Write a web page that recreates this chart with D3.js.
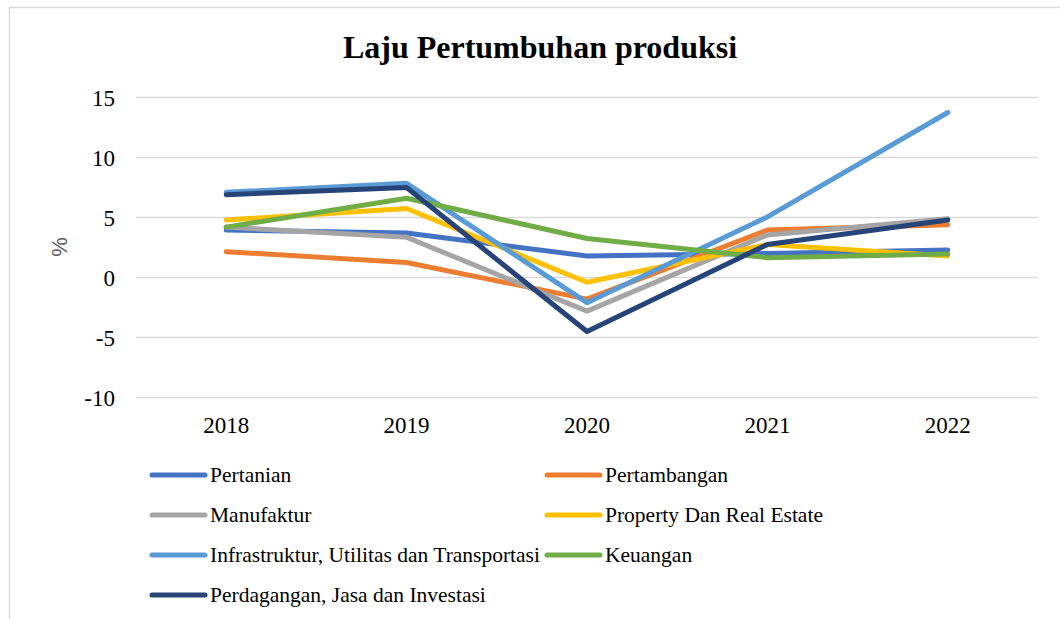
<!DOCTYPE html>
<html lang="en">
  <head>
    <meta charset="UTF-8" />
    <title>Laju Pertumbuhan produksi</title>
    <script src="https://d3js.org/d3.v7.min.js"></script>
    <style>
      body {
        margin: 0;
        background: #fff;
      }
      .title {
        font-family: "Liberation Serif", "Times New Roman", serif;
        font-weight: bold;
        font-size: 32px;
      }
      .tick-label {
        font-family: "Liberation Serif", "Times New Roman", serif;
        font-size: 23px;
        fill: #000;
      }
      .legend-label {
        font-family: "Liberation Serif", "Times New Roman", serif;
        font-size: 21.5px;
      }
    </style>
  </head>
  <body>
    <svg width="1060" height="619"></svg>
    <script>
      const years = ["2018", "2019", "2020", "2021", "2022"];
      const yTicks = [-10, -5, 0, 5, 10, 15];

      const pertanian = [3.95, 3.7, 1.8, 2.0, 2.3];
      const pertambangan = [2.15, 1.25, -1.8, 3.95, 4.4];
      const manufaktur = [4.2, 3.35, -2.8, 3.55, 4.9];
      const property = [4.8, 5.75, -0.4, 2.75, 1.8];
      const infrastruktur = [7.1, 7.85, -2.1, 5.05, 13.75];
      const keuangan = [4.2, 6.6, 3.25, 1.65, 1.95];
      const perdagangan = [6.9, 7.5, -4.5, 2.75, 4.8];

      const series = [
        { name: "Pertanian", values: pertanian, color: "#4472C4" },
        { name: "Pertambangan", values: pertambangan, color: "#ED7D31" },
        { name: "Manufaktur", values: manufaktur, color: "#A5A5A5" },
        { name: "Property Dan Real Estate", values: property, color: "#FFC000" },
        { name: "Infrastruktur, Utilitas dan Transportasi", values: infrastruktur, color: "#5B9BD5" },
        { name: "Keuangan", values: keuangan, color: "#70AD47" },
        { name: "Perdagangan, Jasa dan Investasi", values: perdagangan, color: "#264478" },
      ];

      const svg = d3.select("svg");

      // chart border
      svg
        .append("rect")
        .attr("x", 9.5)
        .attr("y", 7.5)
        .attr("width", 1060)
        .attr("height", 630)
        .attr("fill", "none")
        .attr("stroke", "#d9d9d9")
        .attr("stroke-width", 1.5);

      svg
        .append("text")
        .attr("class", "title")
        .attr("x", 540)
        .attr("y", 58)
        .attr("text-anchor", "middle")
        .text("Laju Pertumbuhan produksi");

      const x = d3.scaleBand().domain(years).range([136, 1038]);
      const y = d3.scaleLinear().domain([-10, 15]).range([397.5, 97.5]);

      // gridlines
      svg
        .append("g")
        .selectAll("line")
        .data(yTicks)
        .enter()
        .append("line")
        .attr("x1", 136)
        .attr("x2", 1038)
        .attr("y1", (d) => y(d))
        .attr("y2", (d) => y(d))
        .attr("stroke", "#d9d9d9")
        .attr("stroke-width", 1.3);

      // y labels
      svg
        .append("g")
        .selectAll("text")
        .data(yTicks)
        .enter()
        .append("text")
        .attr("class", "tick-label")
        .attr("x", 115)
        .attr("y", (d) => y(d) + 8)
        .attr("text-anchor", "end")
        .text((d) => d);

      // x labels
      svg
        .append("g")
        .selectAll("text")
        .data(years)
        .enter()
        .append("text")
        .attr("class", "tick-label")
        .attr("x", (d) => x(d) + x.bandwidth() / 2)
        .attr("y", 433)
        .attr("text-anchor", "middle")
        .text((d) => d);

      svg
        .append("text")
        .attr("transform", "translate(67,247) rotate(-90)")
        .attr("text-anchor", "middle")
        .attr("font-family", "Liberation Sans, Arial, sans-serif")
        .attr("font-size", 22)
        .attr("fill", "#595959")
        .text("%");

      const line = d3
        .line()
        .x((d, i) => x(years[i]) + x.bandwidth() / 2)
        .y((d) => y(d));

      svg
        .append("g")
        .selectAll("path")
        .data(series)
        .enter()
        .append("path")
        .attr("d", (d) => line(d.values))
        .attr("fill", "none")
        .attr("stroke", (d) => d.color)
        .attr("stroke-width", 5)
        .attr("stroke-linecap", "round")
        .attr("stroke-linejoin", "round");

      // legend, two columns
      const legend = svg
        .append("g")
        .selectAll("g")
        .data(series)
        .enter()
        .append("g")
        .attr("transform", (d, i) => `translate(${i % 2 === 0 ? 152 : 547},${475 + Math.floor(i / 2) * 40})`);

      legend
        .append("line")
        .attr("x1", 0)
        .attr("x2", 53)
        .attr("stroke", (d) => d.color)
        .attr("stroke-width", 5)
        .attr("stroke-linecap", "round");

      legend
        .append("text")
        .attr("class", "legend-label")
        .attr("x", 58)
        .attr("y", 7)
        .text((d) => d.name);
    </script>
  </body>
</html>
